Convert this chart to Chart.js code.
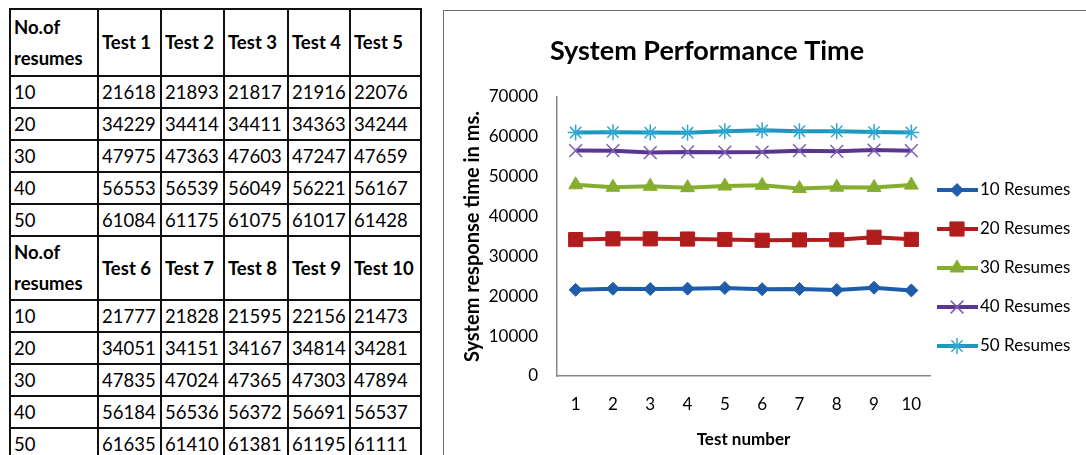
<!DOCTYPE html>
<html>
<head>
<meta charset="utf-8">
<script src="https://cdn.jsdelivr.net/npm/chart.js@4.4.1/dist/chart.umd.min.js"></script>
<style>
  body { margin: 0; background: #fff; width: 1086px; height: 455px; overflow: hidden; position: relative; font-family: Lato, sans-serif; }
  table { position: absolute; left: 9px; top: 8px; border-collapse: collapse; table-layout: fixed; font-size: 18.5px; color: #000; }
  td { border: 2px solid #111; padding: 0 0 0 3px; text-align: left; vertical-align: middle; white-space: nowrap; overflow: hidden; line-height: 26px; }
  td.head { font-weight: bold; line-height: 31px; }
  #frame { position: absolute; left: 443px; top: 10px; width: 700px; height: 500px; border: 1px solid #6e6e6e; }
  #wrap { position: absolute; left: 444px; top: 11px; width: 642px; height: 444px; }
</style>
</head>
<body>
<table id="results"></table>
<div id="frame"></div>
<div id="wrap"><canvas id="perfChart" width="642" height="444"></canvas></div>
<script>
const testNumbers = ['1', '2', '3', '4', '5', '6', '7', '8', '9', '10'];
const resumeCounts = ['10', '20', '30', '40', '50'];
const seriesLabels = ['10 Resumes', '20 Resumes', '30 Resumes', '40 Resumes', '50 Resumes'];
const resumes10 = [21618, 21893, 21817, 21916, 22076, 21777, 21828, 21595, 22156, 21473];
const resumes20 = [34229, 34414, 34411, 34363, 34244, 34051, 34151, 34167, 34814, 34281];
const resumes30 = [47975, 47363, 47603, 47247, 47659, 47835, 47024, 47365, 47303, 47894];
const resumes40 = [56553, 56539, 56049, 56221, 56167, 56184, 56536, 56372, 56691, 56537];
const resumes50 = [61084, 61175, 61075, 61017, 61428, 61635, 61410, 61381, 61195, 61111];
const yMin = 0, yMax = 70000, yStep = 10000;
const chartTitle = 'System Performance Time';

const allSeries = [resumes10, resumes20, resumes30, resumes40, resumes50];

// Tabla (dos bloques de 5 pruebas)
const table = document.getElementById('results');
const colWidths = [88, 63, 63, 64, 62, 71];
let html = '<colgroup>' + colWidths.map(w => `<col style="width:${w}px">`).join('') + '</colgroup>';
[0, 5].forEach((start, b) => {
    const headH = b === 0 ? 67 : 61;
    html += `<tr style="height:${headH}px"><td class="head">No.of<br>resumes</td>`;
    for (let t = start; t < start + 5; t++) {
        html += `<td class="head">Test ${testNumbers[t]}</td>`;
    }
    html += '</tr>';
    resumeCounts.forEach((rc, i) => {
        html += `<tr style="height:32px"><td>${rc}</td>`;
        for (let t = start; t < start + 5; t++) {
            html += `<td>${allSeries[i][t]}</td>`;
        }
        html += '</tr>';
    });
});
table.innerHTML = html;

// Estilos de cada serie
const styles = [
    { line: '#1F5CAA', point: '#1F5CAA', shape: 'rectRot', r: 6.5, bw: 1 },
    { line: '#B11D1D', point: '#B11D1D', shape: 'rect', r: 10, bw: 1 },
    { line: '#86AE2E', point: '#86AE2E', shape: 'triangle', r: 8, bw: 1 },
    { line: '#5B3691', point: '#7E5DB3', shape: 'crossRot', r: 9, bw: 1.5 },
    { line: '#1C97BD', point: '#2FA8D0', shape: 'star', r: 8, bw: 1.5 }
];

const datasets = allSeries.map((values, i) => ({
    label: seriesLabels[i],
    data: values,
    borderColor: styles[i].line,
    backgroundColor: styles[i].line,
    borderWidth: 4,
    tension: 0,
    pointStyle: styles[i].shape,
    pointRadius: styles[i].r,
    pointHoverRadius: styles[i].r,
    pointBackgroundColor: styles[i].point,
    pointBorderColor: styles[i].point,
    pointBorderWidth: styles[i].bw
}));

// Título y leyenda dibujados a mano (posición como en Excel)
const overlay = {
    id: 'overlay',
    afterDraw(chart) {
        const ctx = chart.ctx;
        ctx.save();
        ctx.fillStyle = '#000';
        ctx.font = 'bold 27px Lato';
        ctx.textAlign = 'center';
        ctx.textBaseline = 'middle';
        ctx.fillText(chartTitle, 263, 40);

        chart.data.datasets.forEach((ds, i) => {
            const y = 179 + i * 39;
            ctx.strokeStyle = ds.borderColor;
            ctx.lineWidth = 4;
            ctx.beginPath();
            ctx.moveTo(493, y);
            ctx.lineTo(534, y);
            ctx.stroke();
            ctx.fillStyle = ds.pointBackgroundColor;
            ctx.strokeStyle = ds.pointBorderColor;
            ctx.lineWidth = ds.pointBorderWidth;
            Chart.helpers.drawPoint(ctx, { pointStyle: ds.pointStyle, radius: ds.pointRadius, rotation: 0, borderWidth: ds.pointBorderWidth }, 513, y);
            ctx.fillStyle = '#000';
            ctx.font = '17px Lato';
            ctx.textAlign = 'left';
            ctx.fillText(ds.label, 536, y);
        });
        ctx.restore();
    }
};

const ctx = document.getElementById('perfChart').getContext('2d');
new Chart(ctx, {
    type: 'line',
    data: { labels: testNumbers, datasets: datasets },
    options: {
        responsive: false,
        animation: false,
        devicePixelRatio: 1,
        layout: { padding: { left: 0, right: 156, top: 86, bottom: 0 } },
        plugins: {
            legend: { display: false },
            title: { display: false },
            tooltip: { enabled: false }
        },
        scales: {
            x: {
                offset: true,
                grid: { display: false, drawTicks: false, offset: true },
                border: { display: true, color: '#888', width: 1.5 },
                ticks: { color: '#000', padding: 18, maxRotation: 0, font: { family: 'Lato', size: 17 } },
                title: { display: true, text: 'Test number', color: '#000', font: { family: 'Lato', size: 17, weight: 'bold' }, padding: { top: 0, bottom: 5 } },
                afterFit(scale) { scale.height = 79; }
            },
            y: {
                min: yMin,
                max: yMax,
                grid: { display: false, drawTicks: false },
                border: { display: true, color: '#888', width: 1.5 },
                ticks: {
                    stepSize: yStep, color: '#000', padding: 19, font: { family: 'Lato', size: 17 },
                    callback: value => String(value)
                },
                title: { display: true, text: 'System response time in ms.', color: '#000', font: { family: 'Lato', size: 20, weight: 'bold' }, padding: { top: 17, bottom: 0 } },
                afterFit(scale) { scale.width = 113; }
            }
        }
    },
    plugins: [overlay]
});
</script>
</body>
</html>
